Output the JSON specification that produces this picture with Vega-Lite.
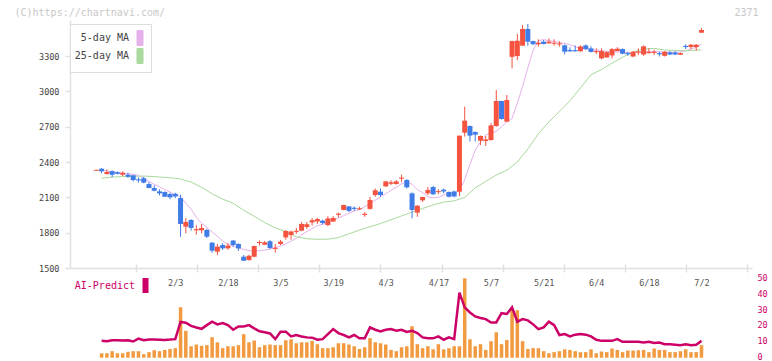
{
"$schema":"https://vega.github.io/schema/vega-lite/v6.json",
"width":682,"height":338,
"autosize":{"type":"none"},
"padding":{"left":70,"top":20,"right":20,"bottom":3},
"background":"white",
"config":{"view":{"stroke":null},"font":"DejaVu Sans Mono"},
"datasets":{
"candles":[
{"i":0,"o":2326,"h":2334,"l":2326,"c":2334},{"i":1,"o":2343,"h":2349,"l":2304,"c":2321},{"i":2,"o":2298,"h":2338,"l":2292,"c":2315},{"i":3,"o":2322,"h":2328,"l":2270,"c":2292},{"i":4,"o":2313,"h":2320,"l":2295,"c":2300},{"i":5,"o":2292,"h":2321,"l":2281,"c":2309},{"i":6,"o":2292,"h":2309,"l":2264,"c":2275},{"i":7,"o":2287,"h":2290,"l":2236,"c":2247},{"i":8,"o":2253,"h":2270,"l":2225,"c":2244},{"i":9,"o":2262,"h":2275,"l":2219,"c":2225},
{"i":10,"o":2213,"h":2230,"l":2179,"c":2179},{"i":11,"o":2179,"h":2202,"l":2151,"c":2156},{"i":12,"o":2151,"h":2168,"l":2117,"c":2134},{"i":13,"o":2145,"h":2151,"l":2105,"c":2105},{"i":14,"o":2128,"h":2139,"l":2083,"c":2100},{"i":15,"o":2130,"h":2139,"l":2094,"c":2108},{"i":16,"o":2094,"h":2122,"l":1766,"c":1874},{"i":17,"o":1851,"h":1925,"l":1795,"c":1891},{"i":18,"o":1908,"h":1914,"l":1817,"c":1840},{"i":19,"o":1820,"h":1863,"l":1783,"c":1830},
{"i":20,"o":1820,"h":1874,"l":1795,"c":1840},{"i":21,"o":1823,"h":1834,"l":1755,"c":1766},{"i":22,"o":1715,"h":1721,"l":1630,"c":1647},{"i":23,"o":1639,"h":1704,"l":1610,"c":1681},{"i":24,"o":1695,"h":1712,"l":1653,"c":1667},{"i":25,"o":1667,"h":1712,"l":1655,"c":1690},{"i":26,"o":1733,"h":1738,"l":1681,"c":1695},{"i":27,"o":1704,"h":1710,"l":1645,"c":1667},{"i":28,"o":1596,"h":1610,"l":1560,"c":1562},{"i":29,"o":1568,"h":1612,"l":1562,"c":1604},
{"i":30,"o":1596,"h":1690,"l":1590,"c":1687},{"i":31,"o":1712,"h":1733,"l":1690,"c":1721},{"i":32,"o":1698,"h":1730,"l":1695,"c":1718},{"i":33,"o":1727,"h":1738,"l":1660,"c":1670},{"i":34,"o":1662,"h":1704,"l":1630,"c":1672},{"i":35,"o":1704,"h":1738,"l":1695,"c":1724},{"i":36,"o":1760,"h":1823,"l":1740,"c":1814},{"i":37,"o":1780,"h":1817,"l":1740,"c":1810},{"i":38,"o":1807,"h":1840,"l":1790,"c":1816},{"i":39,"o":1817,"h":1891,"l":1812,"c":1874},
{"i":40,"o":1848,"h":1891,"l":1832,"c":1872},{"i":41,"o":1887,"h":1925,"l":1860,"c":1906},{"i":42,"o":1895,"h":1925,"l":1875,"c":1916},{"i":43,"o":1902,"h":1910,"l":1870,"c":1882},{"i":44,"o":1866,"h":1940,"l":1855,"c":1920},{"i":45,"o":1895,"h":1940,"l":1890,"c":1925},{"i":46,"o":1952,"h":1970,"l":1930,"c":1962},{"i":47,"o":1993,"h":2037,"l":1990,"c":2035},{"i":48,"o":2023,"h":2025,"l":1975,"c":1985},{"i":49,"o":2012,"h":2023,"l":1985,"c":2002},
{"i":50,"o":1998,"h":2020,"l":1993,"c":2007},{"i":51,"o":1950,"h":1975,"l":1935,"c":1960},{"i":52,"o":2002,"h":2105,"l":1995,"c":2078},{"i":53,"o":2120,"h":2175,"l":2105,"c":2160},{"i":54,"o":2148,"h":2175,"l":2105,"c":2120},{"i":55,"o":2193,"h":2240,"l":2190,"c":2235},{"i":56,"o":2215,"h":2245,"l":2205,"c":2228},{"i":57,"o":2213,"h":2247,"l":2208,"c":2235},{"i":58,"o":2259,"h":2292,"l":2230,"c":2268},{"i":59,"o":2247,"h":2255,"l":2175,"c":2185},
{"i":60,"o":2134,"h":2142,"l":1922,"c":1993},{"i":61,"o":1970,"h":2035,"l":1935,"c":2029},{"i":62,"o":2075,"h":2105,"l":2060,"c":2103},{"i":63,"o":2134,"h":2188,"l":2120,"c":2162},{"i":64,"o":2188,"h":2196,"l":2120,"c":2126},{"i":65,"o":2144,"h":2170,"l":2128,"c":2153},{"i":66,"o":2165,"h":2175,"l":2135,"c":2150},{"i":67,"o":2145,"h":2150,"l":2100,"c":2105},{"i":68,"o":2150,"h":2157,"l":2100,"c":2108},{"i":69,"o":2148,"h":2624,"l":2110,"c":2624},
{"i":70,"o":2649,"h":2870,"l":2616,"c":2751},{"i":71,"o":2706,"h":2710,"l":2574,"c":2624},{"i":72,"o":2655,"h":2660,"l":2574,"c":2632},{"i":73,"o":2581,"h":2625,"l":2545,"c":2621},{"i":74,"o":2578,"h":2621,"l":2536,"c":2592},{"i":75,"o":2587,"h":2730,"l":2580,"c":2711},{"i":76,"o":2706,"h":3012,"l":2700,"c":2918},{"i":77,"o":2918,"h":2920,"l":2760,"c":2765},{"i":78,"o":2743,"h":2969,"l":2740,"c":2927},{"i":79,"o":3293,"h":3430,"l":3195,"c":3427},
{"i":80,"o":3300,"h":3487,"l":3266,"c":3430},{"i":81,"o":3388,"h":3564,"l":3388,"c":3530},{"i":82,"o":3530,"h":3572,"l":3388,"c":3422},{"i":83,"o":3427,"h":3430,"l":3395,"c":3400},{"i":84,"o":3400,"h":3442,"l":3380,"c":3413},{"i":85,"o":3422,"h":3436,"l":3399,"c":3402},{"i":86,"o":3408,"h":3450,"l":3405,"c":3422},{"i":87,"o":3404,"h":3442,"l":3388,"c":3413},{"i":88,"o":3398,"h":3425,"l":3380,"c":3407},{"i":89,"o":3391,"h":3399,"l":3314,"c":3337},
{"i":90,"o":3352,"h":3374,"l":3337,"c":3340},{"i":91,"o":3350,"h":3390,"l":3337,"c":3340},{"i":92,"o":3340,"h":3390,"l":3337,"c":3382},{"i":93,"o":3390,"h":3399,"l":3350,"c":3360},{"i":94,"o":3365,"h":3382,"l":3330,"c":3335},{"i":95,"o":3333,"h":3365,"l":3316,"c":3342},{"i":96,"o":3280,"h":3365,"l":3272,"c":3342},{"i":97,"o":3288,"h":3340,"l":3285,"c":3333},{"i":98,"o":3305,"h":3368,"l":3280,"c":3359},{"i":99,"o":3342,"h":3375,"l":3340,"c":3362},
{"i":100,"o":3359,"h":3365,"l":3314,"c":3320},{"i":101,"o":3325,"h":3336,"l":3302,"c":3315},{"i":102,"o":3296,"h":3342,"l":3290,"c":3336},{"i":103,"o":3329,"h":3365,"l":3308,"c":3339},{"i":104,"o":3313,"h":3390,"l":3302,"c":3382},{"i":105,"o":3324,"h":3365,"l":3322,"c":3335},{"i":106,"o":3327,"h":3353,"l":3308,"c":3337},{"i":107,"o":3325,"h":3336,"l":3296,"c":3315},{"i":108,"o":3302,"h":3342,"l":3296,"c":3336},{"i":109,"o":3331,"h":3342,"l":3308,"c":3313},
{"i":110,"o":3330,"h":3342,"l":3308,"c":3313},{"i":111,"o":3311,"h":3330,"l":3308,"c":3325},{"i":112,"o":3386,"h":3399,"l":3359,"c":3376},{"i":113,"o":3376,"h":3402,"l":3359,"c":3396},{"i":114,"o":3376,"h":3402,"l":3345,"c":3396},{"i":115,"o":3498,"h":3538,"l":3498,"c":3521}
],
"ma":[
{"s":"5-day MA","i":1,"v":2330},{"s":"5-day MA","i":3,"v":2318},{"s":"5-day MA","i":5,"v":2305},{"s":"5-day MA","i":7,"v":2295},{"s":"5-day MA","i":8,"v":2288},{"s":"5-day MA","i":9,"v":2260},{"s":"5-day MA","i":10,"v":2235},{"s":"5-day MA","i":11,"v":2210},{"s":"5-day MA","i":12,"v":2190},{"s":"5-day MA","i":13,"v":2165},{"s":"5-day MA","i":14,"v":2145},{"s":"5-day MA","i":15,"v":2120},{"s":"5-day MA","i":16,"v":2105},{"s":"5-day MA","i":17,"v":2050},{"s":"5-day MA","i":18,"v":2000},{"s":"5-day MA","i":19,"v":1930},{"s":"5-day MA","i":20,"v":1880},{"s":"5-day MA","i":21,"v":1845},{"s":"5-day MA","i":22,"v":1805},{"s":"5-day MA","i":23,"v":1770},{"s":"5-day MA","i":24,"v":1730},{"s":"5-day MA","i":25,"v":1700},{"s":"5-day MA","i":26,"v":1685},{"s":"5-day MA","i":27,"v":1668},{"s":"5-day MA","i":28,"v":1658},{"s":"5-day MA","i":29,"v":1648},{"s":"5-day MA","i":30,"v":1642},{"s":"5-day MA","i":31,"v":1647},{"s":"5-day MA","i":32,"v":1652},{"s":"5-day MA","i":33,"v":1660},{"s":"5-day MA","i":34,"v":1672},{"s":"5-day MA","i":35,"v":1688},{"s":"5-day MA","i":36,"v":1704},{"s":"5-day MA","i":37,"v":1728},{"s":"5-day MA","i":38,"v":1752},{"s":"5-day MA","i":39,"v":1780},{"s":"5-day MA","i":40,"v":1810},{"s":"5-day MA","i":41,"v":1835},{"s":"5-day MA","i":42,"v":1860},{"s":"5-day MA","i":43,"v":1872},{"s":"5-day MA","i":44,"v":1883},{"s":"5-day MA","i":45,"v":1905},{"s":"5-day MA","i":46,"v":1925},{"s":"5-day MA","i":47,"v":1945},{"s":"5-day MA","i":48,"v":1965},{"s":"5-day MA","i":49,"v":1985},{"s":"5-day MA","i":50,"v":1995},{"s":"5-day MA","i":51,"v":2020},{"s":"5-day MA","i":52,"v":2045},{"s":"5-day MA","i":53,"v":2075},{"s":"5-day MA","i":54,"v":2105},{"s":"5-day MA","i":55,"v":2130},{"s":"5-day MA","i":56,"v":2160},{"s":"5-day MA","i":57,"v":2185},{"s":"5-day MA","i":58,"v":2215},{"s":"5-day MA","i":59,"v":2233},{"s":"5-day MA","i":60,"v":2210},{"s":"5-day MA","i":61,"v":2165},{"s":"5-day MA","i":62,"v":2140},{"s":"5-day MA","i":63,"v":2105},{"s":"5-day MA","i":64,"v":2095},{"s":"5-day MA","i":65,"v":2100},{"s":"5-day MA","i":66,"v":2120},{"s":"5-day MA","i":67,"v":2135},{"s":"5-day MA","i":68,"v":2135},{"s":"5-day MA","i":69,"v":2160},{"s":"5-day MA","i":70,"v":2250},{"s":"5-day MA","i":71,"v":2380},{"s":"5-day MA","i":72,"v":2500},{"s":"5-day MA","i":73,"v":2570},{"s":"5-day MA","i":74,"v":2630},{"s":"5-day MA","i":75,"v":2645},{"s":"5-day MA","i":76,"v":2660},{"s":"5-day MA","i":77,"v":2700},{"s":"5-day MA","i":78,"v":2740},{"s":"5-day MA","i":79,"v":2770},{"s":"5-day MA","i":80,"v":2900},{"s":"5-day MA","i":81,"v":3040},{"s":"5-day MA","i":82,"v":3200},{"s":"5-day MA","i":83,"v":3350},{"s":"5-day MA","i":84,"v":3430},{"s":"5-day MA","i":85,"v":3440},{"s":"5-day MA","i":86,"v":3430},{"s":"5-day MA","i":87,"v":3425},{"s":"5-day MA","i":88,"v":3415},{"s":"5-day MA","i":89,"v":3408},{"s":"5-day MA","i":90,"v":3395},{"s":"5-day MA","i":91,"v":3380},{"s":"5-day MA","i":92,"v":3365},{"s":"5-day MA","i":93,"v":3360},{"s":"5-day MA","i":94,"v":3355},{"s":"5-day MA","i":95,"v":3350},{"s":"5-day MA","i":96,"v":3345},{"s":"5-day MA","i":97,"v":3340},{"s":"5-day MA","i":98,"v":3335},{"s":"5-day MA","i":99,"v":3335},{"s":"5-day MA","i":100,"v":3333},{"s":"5-day MA","i":101,"v":3331},{"s":"5-day MA","i":102,"v":3330},{"s":"5-day MA","i":103,"v":3332},{"s":"5-day MA","i":104,"v":3336},{"s":"5-day MA","i":105,"v":3336},{"s":"5-day MA","i":106,"v":3336},{"s":"5-day MA","i":107,"v":3336},{"s":"5-day MA","i":108,"v":3334},{"s":"5-day MA","i":109,"v":3332},{"s":"5-day MA","i":110,"v":3331},{"s":"5-day MA","i":111,"v":3335},{"s":"5-day MA","i":112,"v":3345},{"s":"5-day MA","i":113,"v":3359},{"s":"5-day MA","i":114,"v":3375},{"s":"5-day MA","i":115,"v":3402},
{"s":"25-day MA","i":1,"v":2262},{"s":"25-day MA","i":3,"v":2272},{"s":"25-day MA","i":5,"v":2276},{"s":"25-day MA","i":7,"v":2279},{"s":"25-day MA","i":9,"v":2281},{"s":"25-day MA","i":11,"v":2276},{"s":"25-day MA","i":13,"v":2270},{"s":"25-day MA","i":15,"v":2262},{"s":"25-day MA","i":16,"v":2255},{"s":"25-day MA","i":18,"v":2230},{"s":"25-day MA","i":20,"v":2185},{"s":"25-day MA","i":22,"v":2130},{"s":"25-day MA","i":24,"v":2085},{"s":"25-day MA","i":26,"v":2050},{"s":"25-day MA","i":28,"v":1990},{"s":"25-day MA","i":30,"v":1940},{"s":"25-day MA","i":32,"v":1885},{"s":"25-day MA","i":34,"v":1840},{"s":"25-day MA","i":36,"v":1810},{"s":"25-day MA","i":38,"v":1765},{"s":"25-day MA","i":40,"v":1748},{"s":"25-day MA","i":42,"v":1744},{"s":"25-day MA","i":44,"v":1745},{"s":"25-day MA","i":46,"v":1758},{"s":"25-day MA","i":48,"v":1790},{"s":"25-day MA","i":50,"v":1822},{"s":"25-day MA","i":52,"v":1850},{"s":"25-day MA","i":54,"v":1878},{"s":"25-day MA","i":56,"v":1910},{"s":"25-day MA","i":58,"v":1942},{"s":"25-day MA","i":60,"v":1975},{"s":"25-day MA","i":62,"v":2005},{"s":"25-day MA","i":64,"v":2035},{"s":"25-day MA","i":66,"v":2060},{"s":"25-day MA","i":68,"v":2070},{"s":"25-day MA","i":70,"v":2100},{"s":"25-day MA","i":72,"v":2180},{"s":"25-day MA","i":74,"v":2235},{"s":"25-day MA","i":76,"v":2290},{"s":"25-day MA","i":78,"v":2330},{"s":"25-day MA","i":80,"v":2400},{"s":"25-day MA","i":82,"v":2510},{"s":"25-day MA","i":84,"v":2640},{"s":"25-day MA","i":86,"v":2740},{"s":"25-day MA","i":88,"v":2830},{"s":"25-day MA","i":90,"v":2920},{"s":"25-day MA","i":92,"v":3030},{"s":"25-day MA","i":94,"v":3140},{"s":"25-day MA","i":96,"v":3185},{"s":"25-day MA","i":98,"v":3240},{"s":"25-day MA","i":100,"v":3290},{"s":"25-day MA","i":102,"v":3335},{"s":"25-day MA","i":104,"v":3360},{"s":"25-day MA","i":106,"v":3365},{"s":"25-day MA","i":108,"v":3352},{"s":"25-day MA","i":110,"v":3347},{"s":"25-day MA","i":112,"v":3345},{"s":"25-day MA","i":114,"v":3350},{"s":"25-day MA","i":115,"v":3352}
],
"ai":[
{"i":1,"bar":2.8,"line":10.6},{"i":2,"bar":2.8,"line":10.4},{"i":3,"bar":4.1,"line":11.0},{"i":4,"bar":2.8,"line":11.0},{"i":5,"bar":2.8,"line":10.8},{"i":6,"bar":3.7,"line":11.0},{"i":7,"bar":4.1,"line":10.2},{"i":8,"bar":4.1,"line":12.0},{"i":9,"bar":2.2,"line":11.0},{"i":10,"bar":3.5,"line":11.4},
{"i":11,"bar":4.7,"line":11.4},{"i":12,"bar":4.1,"line":11.3},{"i":13,"bar":4.9,"line":11.2},{"i":14,"bar":5.5,"line":11.4},{"i":15,"bar":6.0,"line":11.7},{"i":16,"bar":31.8,"line":22.5},{"i":17,"bar":16.9,"line":22.0},{"i":18,"bar":7.2,"line":20.0},{"i":19,"bar":8.3,"line":19.0},{"i":20,"bar":7.5,"line":18.2},
{"i":21,"bar":7.9,"line":20.5},{"i":22,"bar":12.9,"line":22.7},{"i":23,"bar":9.7,"line":21.0},{"i":24,"bar":6.0,"line":21.8},{"i":25,"bar":7.2,"line":20.5},{"i":26,"bar":7.2,"line":17.6},{"i":27,"bar":7.9,"line":19.7},{"i":28,"bar":14.8,"line":19.7},{"i":29,"bar":9.7,"line":20.5},{"i":30,"bar":10.8,"line":18.5},
{"i":31,"bar":6.6,"line":16.6},{"i":32,"bar":7.9,"line":16.0},{"i":33,"bar":8.3,"line":15.3},{"i":34,"bar":7.9,"line":11.7},{"i":35,"bar":7.9,"line":16.4},{"i":36,"bar":11.0,"line":16.4},{"i":37,"bar":11.6,"line":13.4},{"i":38,"bar":9.1,"line":14.3},{"i":39,"bar":9.7,"line":13.4},{"i":40,"bar":9.7,"line":12.8},
{"i":41,"bar":10.6,"line":12.6},{"i":42,"bar":8.5,"line":11.3},{"i":43,"bar":6.0,"line":11.7},{"i":44,"bar":6.0,"line":14.9},{"i":45,"bar":6.6,"line":18.0},{"i":46,"bar":9.1,"line":15.5},{"i":47,"bar":9.1,"line":14.3},{"i":48,"bar":8.3,"line":12.8},{"i":49,"bar":7.2,"line":14.3},{"i":50,"bar":5.5,"line":12.2},
{"i":51,"bar":6.6,"line":12.2},{"i":52,"bar":12.3,"line":19.1},{"i":53,"bar":9.7,"line":17.6},{"i":54,"bar":9.1,"line":16.6},{"i":55,"bar":8.3,"line":17.6},{"i":56,"bar":4.9,"line":18.0},{"i":57,"bar":4.1,"line":17.0},{"i":58,"bar":6.6,"line":17.6},{"i":59,"bar":7.2,"line":16.2},{"i":60,"bar":19.8,"line":17.0},
{"i":61,"bar":8.5,"line":15.5},{"i":62,"bar":6.0,"line":12.8},{"i":63,"bar":7.2,"line":12.2},{"i":64,"bar":5.3,"line":12.2},{"i":65,"bar":8.5,"line":13.4},{"i":66,"bar":5.3,"line":11.3},{"i":67,"bar":6.0,"line":12.8},{"i":68,"bar":7.2,"line":11.7},{"i":69,"bar":7.2,"line":41.0},{"i":70,"bar":50.0,"line":31.7},
{"i":71,"bar":11.6,"line":28.5},{"i":72,"bar":7.2,"line":26.0},{"i":73,"bar":8.5,"line":25.0},{"i":74,"bar":4.9,"line":24.3},{"i":75,"bar":10.4,"line":22.2},{"i":76,"bar":16.0,"line":22.2},{"i":77,"bar":8.5,"line":28.0},{"i":78,"bar":11.2,"line":27.5},{"i":79,"bar":30.1,"line":31.7},{"i":80,"bar":29.9,"line":22.7},
{"i":81,"bar":10.4,"line":24.3},{"i":82,"bar":5.5,"line":23.5},{"i":83,"bar":6.0,"line":21.0},{"i":84,"bar":6.0,"line":18.0},{"i":85,"bar":4.1,"line":19.1},{"i":86,"bar":2.8,"line":22.7},{"i":87,"bar":3.5,"line":20.5},{"i":88,"bar":4.1,"line":14.3},{"i":89,"bar":5.3,"line":14.9},{"i":90,"bar":4.9,"line":13.4},
{"i":91,"bar":4.1,"line":14.5},{"i":92,"bar":3.5,"line":14.9},{"i":93,"bar":3.5,"line":14.5},{"i":94,"bar":5.3,"line":13.4},{"i":95,"bar":2.8,"line":11.3},{"i":96,"bar":3.9,"line":10.6},{"i":97,"bar":3.5,"line":10.6},{"i":98,"bar":5.8,"line":10.6},{"i":99,"bar":4.9,"line":11.7},{"i":100,"bar":3.5,"line":10.0},
{"i":101,"bar":4.5,"line":10.0},{"i":102,"bar":4.5,"line":10.0},{"i":103,"bar":4.7,"line":10.0},{"i":104,"bar":4.9,"line":9.6},{"i":105,"bar":3.5,"line":10.0},{"i":106,"bar":5.8,"line":9.2},{"i":107,"bar":4.9,"line":9.6},{"i":108,"bar":4.9,"line":8.5},{"i":109,"bar":3.5,"line":8.5},{"i":110,"bar":3.5,"line":8.2},
{"i":111,"bar":4.1,"line":7.9},{"i":112,"bar":5.3,"line":8.5},{"i":113,"bar":3.5,"line":7.9},{"i":114,"bar":3.5,"line":8.2},{"i":115,"bar":7.9,"line":10.6}
]
},
"layer":[
{"layer":[
 {"data":{"name":"ma"},
  "mark":{"type":"line","strokeWidth":1},
  "encoding":{
   "x":{"field":"i","type":"quantitative","scale":{"domain":[-4.06,123.65],"nice":false,"zero":false}},
   "y":{"field":"v","type":"quantitative","scale":{"domain":[1500,3606],"range":[248,0],"nice":false,"zero":false}},
   "color":{"field":"s","type":"nominal","scale":{"domain":["5-day MA","25-day MA"],"range":["#e6b0ea","#a9d99c"]},
    "legend":{"title":null,"orient":"none","legendX":0,"legendY":4,"direction":"vertical","padding":6,"strokeColor":"#dddddd","fillColor":"#ffffff","labelFont":"DejaVu Sans Mono","labelFontSize":10,"labelColor":"#444444","labelAlign":"right","labelOffset":-19,"symbolOffset":56,"symbolType":"M-0.4,-1H0.4V1H-0.4Z","symbolSize":225,"symbolStrokeColor":"#555555","symbolStrokeWidth":1,"rowPadding":-4,
     "encode":{"symbols":{"update":{"fill":{"scale":"color","field":"value"},"stroke":{"value":"#555555"},"strokeWidth":{"value":1},"opacity":{"value":1}}},"labels":{"update":{"align":{"value":"right"}}}}}}
  }},
 {"data":{"name":"candles"},
  "mark":{"type":"rule","strokeWidth":1},
  "encoding":{
   "x":{"field":"i","type":"quantitative","scale":{"domain":[-4.06,123.65],"nice":false,"zero":false}},
   "y":{"field":"l","type":"quantitative","scale":{"domain":[1500,3606],"range":[248,0],"nice":false,"zero":false}},
   "y2":{"field":"h"},
   "color":{"condition":{"test":"datum.c >= datum.o","value":"#f4533f"},"value":"#3f7ce8"}
  }},
 {"data":{"name":"candles"},
  "mark":{"type":"bar","size":5,"orient":"vertical"},
  "encoding":{
   "x":{"field":"i","type":"quantitative","scale":{"domain":[-4.06,123.65],"nice":false,"zero":false},
    "axis":{"orient":"bottom","title":null,"offset":-90,"grid":false,"values":[15,25,35,45,55,65,75,85,95,105,115],
     "labelExpr":"['2/3','2/18','3/5','3/19','4/3','4/17','5/7','5/21','6/4','6/18','7/2'][round((datum.value - 15) / 10)]",
     "ticks":false,"labelOverlap":false,"labelFlush":false,"labelBound":false,
     "domainColor":"#e0e0e0","domainWidth":1.5,
     "labelFont":"DejaVu Sans Mono","labelFontSize":8.5,"labelColor":"#555555","labelPadding":10}},
   "y":{"field":"o","type":"quantitative","scale":{"domain":[1500,3606],"range":[248,0],"nice":false,"zero":false},
    "axis":{"title":"(C)https://chartnavi.com/","values":[1500,1800,2100,2400,2700,3000,3300],"format":"d","grid":false,
     "domainColor":"#e0e0e0","domainWidth":1.5,"tickColor":"#e0e0e0","tickWidth":1.5,"tickSize":5,
     "labelFont":"DejaVu Sans Mono","labelFontSize":8.5,"labelColor":"#444444","labelPadding":6,
     "titleAngle":0,"titleX":-56,"titleY":-8,"titleAlign":"left","titleBaseline":"middle","titleColor":"#c8c8c8","titleFont":"DejaVu Sans Mono","titleFontSize":10,"titleFontWeight":"normal"}},
   "y2":{"field":"c"},
   "color":{"condition":{"test":"datum.c >= datum.o","value":"#f4533f"},"value":"#3f7ce8"}
  }}
]},
{"layer":[
 {"data":{"name":"ai"},
  "mark":{"type":"bar","size":3.5,"orient":"vertical","color":"#f29a3f"},
  "encoding":{
   "x":{"field":"i","type":"quantitative","scale":{"domain":[-4.06,123.65],"nice":false,"zero":false},
    "axis":{"orient":"bottom","title":null,"offset":-94,"grid":false,"domain":false,"labels":false,
     "values":[7.55,19.16,30.77,42.38,53.99,65.6,77.21,88.82,100.43,112.04,123.65],
     "tickColor":"#e0e0e0","tickWidth":1.5,"tickSize":8}},
   "y":{"field":"bar","type":"quantitative","scale":{"domain":[0,50],"range":[337.7,258.3],"nice":false},
    "axis":{"orient":"right","title":"2371","values":[0,10,20,30,40,50],"grid":false,"domain":false,"ticks":false,
     "labelFont":"DejaVu Sans Mono","labelFontSize":8.5,"labelColor":"#cc0066","labelPadding":5,"labelOffset":-1,
     "titleAngle":0,"titleX":6,"titleY":-8,"titleAlign":"right","titleBaseline":"middle","titleColor":"#c8c8c8","titleFont":"DejaVu Sans Mono","titleFontSize":10,"titleFontWeight":"normal"}}
  }},
 {"data":{"name":"ai"},
  "mark":{"type":"line","strokeWidth":2.5},
  "encoding":{
   "x":{"field":"i","type":"quantitative","scale":{"domain":[-4.06,123.65],"nice":false,"zero":false}},
   "y":{"field":"line","type":"quantitative","scale":{"domain":[0,50],"range":[337.7,258.3],"nice":false}},
   "stroke":{"datum":"AI-Predict","type":"nominal","scale":{"domain":["AI-Predict"],"range":["#cc0066"]},
    "legend":{"title":null,"orient":"none","legendX":6,"legendY":258,"padding":0,"labelFont":"DejaVu Sans Mono","labelFontSize":10,"labelColor":"#cc0066","labelAlign":"right","labelOffset":-18,"symbolOffset":62,"symbolType":"M-0.4,-1H0.4V1H-0.4Z","symbolSize":225,
     "encode":{"symbols":{"update":{"fill":{"value":"#cc0066"},"stroke":{"value":"#cc0066"},"strokeWidth":{"value":0},"opacity":{"value":1}}},"labels":{"update":{"align":{"value":"right"}}}}}}
  }}
]}
],
"resolve":{"scale":{"y":"independent"},"axis":{"y":"independent","x":"independent"}}
}
